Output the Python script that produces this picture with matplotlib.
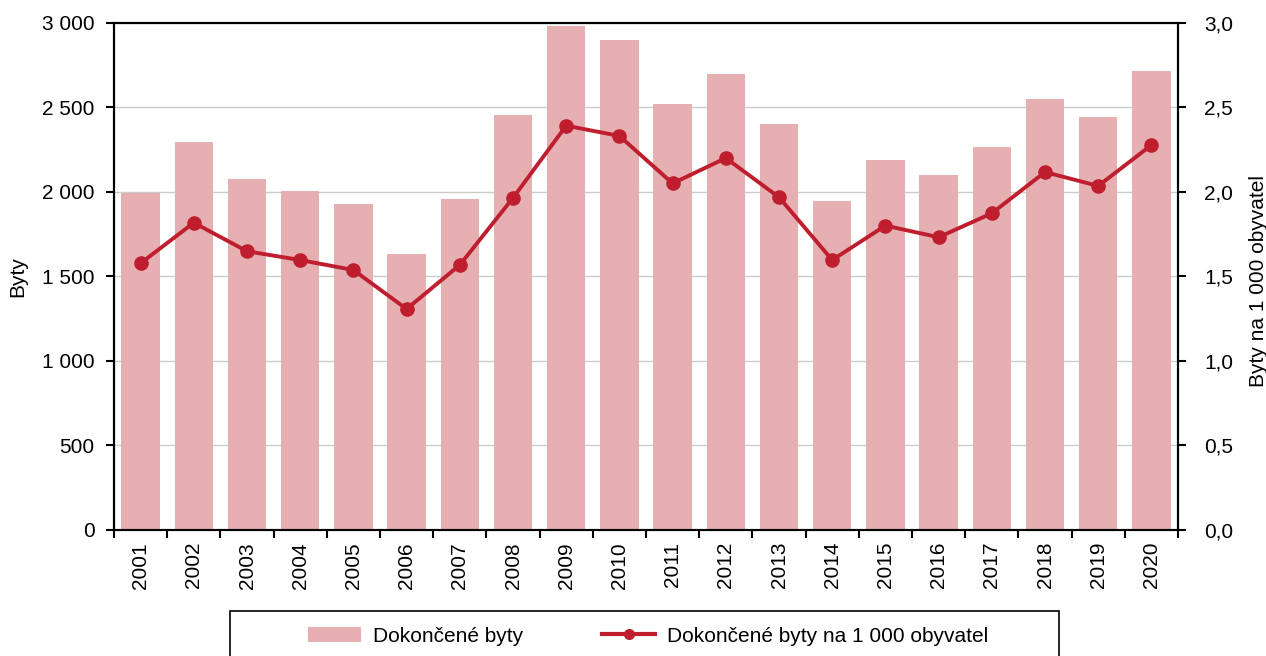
import matplotlib
matplotlib.use("Agg")
import matplotlib.pyplot as plt
from matplotlib.ticker import FuncFormatter, MultipleLocator, FixedLocator
from matplotlib.patches import Rectangle, Patch
from matplotlib.lines import Line2D

plt.rcParams['font.family'] = ['Liberation Sans', 'DejaVu Sans']

years = [str(y) for y in range(2001, 2021)]
dokoncene_byty = [1995, 2297, 2076, 2003, 1928, 1632, 1958, 2453, 2984, 2899,
                  2522, 2698, 2404, 1944, 2189, 2098, 2264, 2548, 2443, 2717]
byty_na_1000 = [1.577, 1.817, 1.648, 1.596, 1.537, 1.306, 1.567, 1.964, 2.392, 2.331,
                2.050, 2.200, 1.968, 1.596, 1.800, 1.731, 1.873, 2.117, 2.035, 2.277]

label_bars = "Dokončené byty"
label_line = "Dokončené byty na 1 000 obyvatel"
ylabel_left = "Byty"
ylabel_right = "Byty na 1 000 obyvatel"

bar_color = "#e6afb2"
line_color = "#be1e2d"
fs = 15

fig = plt.figure(figsize=(12.66, 6.56), dpi=100)
ax = fig.add_axes([114/1266, 1 - 529.5/656, (1178 - 114)/1266, (529.5 - 23)/656])
x = list(range(len(years)))
ax.bar(x, dokoncene_byty, width=0.72, color=bar_color, zorder=2)
ax.set_xlim(-0.5, len(years) - 0.5)
ax.set_ylim(0, 3000)
ax.yaxis.set_major_locator(MultipleLocator(500))
ax.yaxis.set_major_formatter(FuncFormatter(lambda v, p: f"{int(v):,}".replace(",", " ")))
ax.grid(axis='y', color='#cccccc', linewidth=1.0, zorder=0)
ax.set_axisbelow(True)

ax.xaxis.set_major_locator(FixedLocator([i - 0.5 for i in range(len(years) + 1)]))
ax.xaxis.set_major_formatter(FuncFormatter(lambda v, p: ""))
ax.xaxis.set_minor_locator(FixedLocator(x))
ax.set_xticklabels(years, minor=True, rotation=90, fontsize=fs)
ax.tick_params(axis='x', which='major', direction='out', length=6, width=1.5, color='black')
ax.tick_params(axis='x', which='minor', length=0, pad=9)
ax.tick_params(axis='y', direction='out', length=6, width=1.5, labelsize=fs, pad=8)
for s in ax.spines.values():
    s.set_linewidth(1.5)
    s.set_color('black')
ax.set_ylabel(ylabel_left, fontsize=fs)
ax.yaxis.set_label_coords((27 - 114) / 1064, 0.5)

ax2 = ax.twinx()
ax2.plot(x, byty_na_1000, color=line_color, linewidth=2.8, marker='o', markersize=9.5, zorder=3)
ax2.set_ylim(0, 3.0)
ax2.yaxis.set_major_locator(MultipleLocator(0.5))
ax2.yaxis.set_major_formatter(FuncFormatter(lambda v, p: f"{v:.1f}".replace(".", ",")))
ax2.tick_params(axis='y', direction='out', length=6, width=1.5, labelsize=fs, pad=13)
for s in ax2.spines.values():
    s.set_linewidth(1.5)
    s.set_color('black')
ax2.set_ylabel(ylabel_right, fontsize=fs)
ax2.yaxis.set_label_coords((1249 - 114) / 1064, 0.49)

# legend frame
rect = Rectangle((230/1266, -0.05), (1059 - 230)/1266, (0.05 + 1 - 611/656),
                 transform=fig.transFigure, fill=False, edgecolor='black', linewidth=1.2)
fig.add_artist(rect)
handles = [Patch(facecolor=bar_color, edgecolor='none'),
           Line2D([], [], color=line_color, linewidth=3.0, marker='o', markersize=7)]
fig.legend(handles, [label_bars, label_line], loc='center', ncol=2,
           bbox_to_anchor=(648/1266, 1 - 636/656), frameon=False, fontsize=fs,
           handlelength=2.55, handletextpad=0.55, columnspacing=3.8, handleheight=0.75)

fig.savefig("out.png", dpi=100)
